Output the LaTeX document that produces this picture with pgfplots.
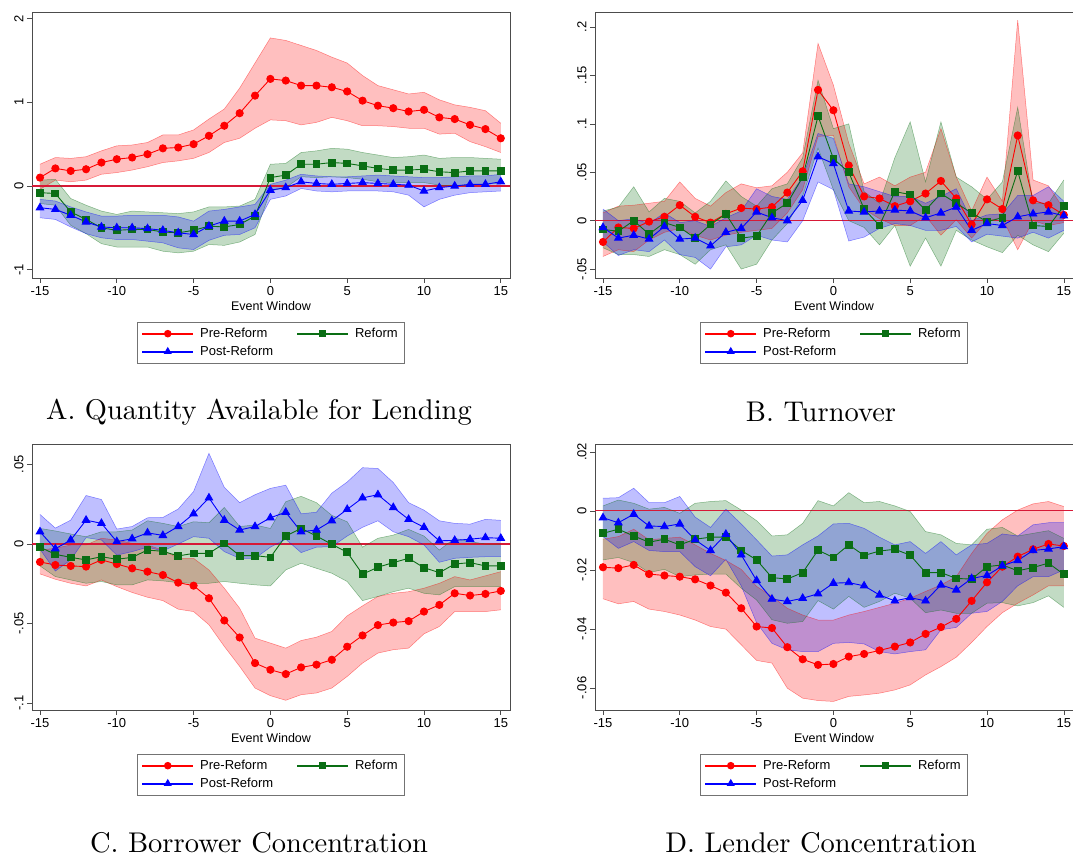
\documentclass[border=0pt]{standalone}
\usepackage{fontspec}
\setsansfont{Liberation Sans}
\newfontfamily\titlefont{lmroman10-regular.otf}
\usepackage{pgfplots}
\usepackage{pgfplotstable}
\pgfplotsset{compat=1.18}
\usepgfplotslibrary{fillbetween}

\definecolor{prered}{RGB}{255,0,0}
\definecolor{refgreen}{RGB}{10,110,20}
\definecolor{postblue}{RGB}{0,0,255}
\definecolor{zeroline}{RGB}{215,25,55}

% columns: event time, then mean / lower / upper for pre-reform (r), reform (g), post-reform (b)
\pgfplotstableread{
x rm rl rh gm gl gh bm bl bh
-15 0.10 -0.04 0.26 -0.08 -0.21 0.07 -0.26 -0.38 -0.16
-14 0.21 0.07 0.34 -0.09 -0.23 0.08 -0.28 -0.40 -0.18
-13 0.18 0.05 0.33 -0.31 -0.47 -0.15 -0.35 -0.49 -0.25
-12 0.20 0.07 0.35 -0.40 -0.57 -0.23 -0.43 -0.57 -0.31
-11 0.28 0.14 0.42 -0.50 -0.69 -0.30 -0.49 -0.62 -0.36
-10 0.32 0.16 0.48 -0.53 -0.73 -0.34 -0.50 -0.64 -0.36
-9 0.34 0.19 0.49 -0.52 -0.73 -0.30 -0.50 -0.64 -0.35
-8 0.38 0.23 0.52 -0.52 -0.73 -0.31 -0.51 -0.66 -0.35
-7 0.45 0.28 0.61 -0.55 -0.78 -0.32 -0.53 -0.68 -0.35
-6 0.46 0.30 0.61 -0.56 -0.80 -0.33 -0.56 -0.74 -0.37
-5 0.50 0.33 0.67 -0.53 -0.78 -0.31 -0.58 -0.76 -0.42
-4 0.60 0.40 0.80 -0.48 -0.70 -0.25 -0.48 -0.65 -0.30
-3 0.72 0.52 0.92 -0.49 -0.71 -0.25 -0.42 -0.59 -0.28
-2 0.87 0.57 1.17 -0.46 -0.67 -0.24 -0.42 -0.58 -0.25
-1 1.08 0.69 1.47 -0.36 -0.58 -0.16 -0.34 -0.50 -0.22
0 1.28 0.79 1.77 0.10 -0.06 0.26 -0.05 -0.16 0.02
1 1.26 0.78 1.74 0.13 -0.02 0.27 -0.02 -0.12 0.07
2 1.20 0.73 1.68 0.26 0.11 0.40 0.05 -0.03 0.14
3 1.20 0.76 1.62 0.26 0.10 0.42 0.03 -0.06 0.12
4 1.18 0.82 1.54 0.28 0.11 0.45 0.02 -0.07 0.11
5 1.13 0.78 1.47 0.27 0.10 0.44 0.03 -0.06 0.11
6 1.02 0.72 1.32 0.24 0.08 0.40 0.04 -0.06 0.12
7 0.96 0.72 1.20 0.21 0.05 0.37 0.03 -0.06 0.13
8 0.93 0.71 1.15 0.19 0.04 0.34 0.02 -0.07 0.12
9 0.89 0.69 1.10 0.19 0.04 0.35 0.01 -0.11 0.11
10 0.91 0.69 1.12 0.20 0.04 0.37 -0.06 -0.25 0.10
11 0.82 0.62 1.03 0.17 0.01 0.33 -0.02 -0.16 0.10
12 0.80 0.63 0.97 0.16 0.00 0.34 0.00 -0.11 0.11
13 0.73 0.53 0.94 0.18 0.01 0.34 0.02 -0.08 0.12
14 0.68 0.47 0.90 0.18 0.02 0.33 0.02 -0.07 0.12
15 0.57 0.40 0.75 0.18 0.03 0.32 0.05 -0.06 0.14
}\quantity

\pgfplotstableread{
x rm rl rh gm gl gh bm bl bh
-15 -0.022 -0.037 0.008 -0.009 -0.028 0.010 -0.007 -0.022 0.012
-14 -0.007 -0.030 0.015 -0.011 -0.035 0.014 -0.018 -0.036 0.000
-13 -0.008 -0.032 0.016 0.000 -0.035 0.035 -0.015 -0.030 0.002
-12 -0.001 -0.020 0.018 -0.014 -0.037 0.009 -0.019 -0.032 -0.003
-11 0.004 -0.012 0.020 -0.002 -0.030 0.023 -0.006 -0.020 0.008
-10 0.016 -0.008 0.040 -0.007 -0.035 0.020 -0.019 -0.035 -0.002
-9 0.004 -0.015 0.023 -0.018 -0.045 0.008 -0.018 -0.038 0.000
-8 -0.002 -0.020 0.015 -0.004 -0.030 0.020 -0.026 -0.050 -0.006
-7 0.007 -0.015 0.029 0.007 -0.025 0.041 -0.012 -0.027 0.003
-6 0.013 -0.012 0.038 -0.018 -0.050 0.025 -0.008 -0.025 0.010
-5 0.012 -0.010 0.034 -0.016 -0.045 0.015 0.009 -0.015 0.033
-4 0.014 -0.008 0.036 0.008 -0.020 0.033 0.003 -0.020 0.025
-3 0.029 0.008 0.050 0.018 -0.003 0.038 0.000 -0.022 0.022
-2 0.051 0.032 0.070 0.045 0.025 0.065 0.021 0.000 0.045
-1 0.135 0.087 0.183 0.108 0.075 0.145 0.066 0.040 0.090
0 0.114 0.088 0.140 0.064 0.032 0.095 0.059 0.032 0.085
1 0.057 0.035 0.080 0.050 0.000 0.100 0.010 -0.021 0.038
2 0.025 0.012 0.038 0.012 -0.007 0.030 0.009 -0.017 0.035
3 0.023 0.002 0.045 -0.005 -0.025 0.018 0.010 -0.008 0.030
4 0.015 -0.005 0.036 0.030 -0.005 0.065 0.011 -0.003 0.025
5 0.020 -0.005 0.045 0.027 -0.047 0.102 0.010 -0.005 0.025
6 0.028 0.005 0.050 0.011 -0.018 0.040 0.003 -0.010 0.018
7 0.041 -0.015 0.095 0.028 -0.047 0.102 0.008 -0.010 0.025
8 0.023 0.001 0.045 0.018 -0.010 0.045 0.014 -0.006 0.033
9 -0.004 -0.018 0.010 0.008 -0.020 0.035 -0.010 -0.022 0.000
10 0.022 0.000 0.045 -0.001 -0.027 0.022 -0.003 -0.014 0.006
11 0.012 0.003 0.020 0.003 -0.033 0.040 -0.005 -0.016 0.007
12 0.088 -0.030 0.207 0.051 -0.015 0.117 0.004 -0.018 0.026
13 0.021 0.000 0.042 -0.005 -0.025 0.018 0.007 -0.012 0.026
14 0.016 -0.005 0.036 -0.006 -0.032 0.018 0.009 -0.018 0.035
15 0.006 -0.002 0.012 0.015 -0.013 0.042 0.005 -0.010 0.020
}\turnover

\pgfplotstableread{
x rm rl rh gm gl gh bm bl bh
-15 -0.0113 -0.0188 -0.0038 -0.0020 -0.0138 0.0098 0.0077 -0.0033 0.0186
-14 -0.0132 -0.0222 -0.0027 -0.0065 -0.0205 0.0082 -0.0030 -0.0170 0.0100
-13 -0.0138 -0.0247 -0.0006 -0.0084 -0.0226 0.0063 0.0025 -0.0100 0.0150
-12 -0.0142 -0.0264 -0.0006 -0.0100 -0.0247 0.0046 0.0150 0.0040 0.0305
-11 -0.0100 -0.0226 0.0036 -0.0080 -0.0236 0.0077 0.0130 0.0025 0.0280
-10 -0.0126 -0.0268 0.0025 -0.0096 -0.0257 0.0077 0.0015 -0.0070 0.0094
-9 -0.0153 -0.0305 0.0004 -0.0084 -0.0257 0.0088 0.0033 -0.0048 0.0110
-8 -0.0174 -0.0335 -0.0006 -0.0038 -0.0226 0.0146 0.0070 -0.0020 0.0165
-7 -0.0195 -0.0356 -0.0038 -0.0046 -0.0232 0.0130 0.0054 -0.0044 0.0167
-6 -0.0243 -0.0410 -0.0090 -0.0075 -0.0243 0.0110 0.0110 0.0000 0.0220
-5 -0.0262 -0.0425 -0.0090 -0.0059 -0.0247 0.0140 0.0190 0.0046 0.0330
-4 -0.0341 -0.0508 -0.0163 -0.0059 -0.0247 0.0134 0.0290 0.0036 0.0570
-3 -0.0481 -0.0644 -0.0278 0.0004 -0.0236 0.0230 0.0150 -0.0048 0.0356
-2 -0.0588 -0.0770 -0.0404 -0.0073 -0.0247 0.0110 0.0088 -0.0090 0.0260
-1 -0.0749 -0.0906 -0.0592 -0.0073 -0.0257 0.0120 0.0110 -0.0090 0.0310
0 -0.0791 -0.0954 -0.0623 -0.0084 -0.0264 0.0098 0.0165 -0.0020 0.0350
1 -0.0818 -0.0983 -0.0655 0.0050 -0.0163 0.0266 0.0200 0.0030 0.0370
2 -0.0776 -0.0948 -0.0607 0.0098 -0.0121 0.0300 0.0077 -0.0054 0.0190
3 -0.0759 -0.0937 -0.0586 0.0050 -0.0153 0.0260 0.0088 -0.0020 0.0200
4 -0.0728 -0.0906 -0.0550 -0.0002 -0.0184 0.0180 0.0146 -0.0017 0.0320
5 -0.0646 -0.0833 -0.0452 -0.0052 -0.0236 0.0140 0.0218 0.0050 0.0390
6 -0.0575 -0.0749 -0.0389 -0.0190 -0.0356 -0.0020 0.0290 0.0105 0.0480
7 -0.0510 -0.0686 -0.0330 -0.0146 -0.0330 0.0036 0.0310 0.0146 0.0475
8 -0.0494 -0.0665 -0.0310 -0.0117 -0.0300 0.0056 0.0230 0.0077 0.0387
9 -0.0485 -0.0655 -0.0300 -0.0090 -0.0278 0.0092 0.0155 0.0046 0.0260
10 -0.0425 -0.0565 -0.0278 -0.0149 -0.0310 0.0050 0.0105 -0.0006 0.0213
11 -0.0383 -0.0519 -0.0247 -0.0180 -0.0320 -0.0038 0.0020 -0.0115 0.0146
12 -0.0310 -0.0425 -0.0205 -0.0126 -0.0268 0.0036 0.0023 -0.0090 0.0130
13 -0.0324 -0.0425 -0.0226 -0.0117 -0.0268 0.0015 0.0030 -0.0084 0.0125
14 -0.0314 -0.0425 -0.0200 -0.0138 -0.0268 0.0000 0.0040 -0.0080 0.0155
15 -0.0295 -0.0414 -0.0174 -0.0138 -0.0268 0.0000 0.0036 -0.0080 0.0149
}\borrower

\pgfplotstableread{
x rm rl rh gm gl gh bm bl bh
-15 -0.0191 -0.0298 -0.0096 -0.0076 -0.0166 0.0017 -0.0023 -0.0087 0.0043
-14 -0.0194 -0.0315 -0.0087 -0.0062 -0.0158 0.0037 -0.0040 -0.0127 0.0045
-13 -0.0183 -0.0307 -0.0062 -0.0085 -0.0175 0.0026 -0.0011 -0.0104 0.0077
-12 -0.0214 -0.0333 -0.0098 -0.0106 -0.0209 0.0006 -0.0051 -0.0134 0.0028
-11 -0.0219 -0.0341 -0.0093 -0.0096 -0.0198 0.0012 -0.0053 -0.0138 0.0028
-10 -0.0223 -0.0353 -0.0089 -0.0115 -0.0223 -0.0008 -0.0044 -0.0138 0.0049
-9 -0.0232 -0.0370 -0.0115 -0.0096 -0.0217 0.0026 -0.0098 -0.0189 -0.0021
-8 -0.0253 -0.0392 -0.0144 -0.0089 -0.0214 0.0032 -0.0134 -0.0220 -0.0056
-7 -0.0277 -0.0401 -0.0168 -0.0089 -0.0214 0.0035 -0.0079 -0.0164 0.0006
-6 -0.0330 -0.0454 -0.0198 -0.0134 -0.0262 0.0003 -0.0149 -0.0254 -0.0044
-5 -0.0392 -0.0507 -0.0256 -0.0166 -0.0302 -0.0033 -0.0236 -0.0379 -0.0098
-4 -0.0397 -0.0516 -0.0290 -0.0226 -0.0369 -0.0085 -0.0299 -0.0449 -0.0153
-3 -0.0462 -0.0601 -0.0330 -0.0231 -0.0381 -0.0081 -0.0307 -0.0471 -0.0149
-2 -0.0503 -0.0635 -0.0353 -0.0209 -0.0375 -0.0042 -0.0296 -0.0477 -0.0115
-1 -0.0522 -0.0643 -0.0370 -0.0133 -0.0304 0.0035 -0.0281 -0.0477 -0.0085
0 -0.0519 -0.0646 -0.0370 -0.0158 -0.0333 0.0017 -0.0245 -0.0449 -0.0044
1 -0.0494 -0.0629 -0.0353 -0.0115 -0.0290 0.0062 -0.0243 -0.0446 -0.0042
2 -0.0485 -0.0624 -0.0341 -0.0151 -0.0327 0.0028 -0.0254 -0.0451 -0.0059
3 -0.0473 -0.0618 -0.0327 -0.0136 -0.0307 0.0032 -0.0285 -0.0477 -0.0089
4 -0.0460 -0.0607 -0.0313 -0.0130 -0.0279 0.0017 -0.0305 -0.0485 -0.0115
5 -0.0446 -0.0590 -0.0296 -0.0150 -0.0296 -0.0002 -0.0294 -0.0477 -0.0104
6 -0.0417 -0.0556 -0.0273 -0.0209 -0.0345 -0.0070 -0.0305 -0.0471 -0.0144
7 -0.0394 -0.0528 -0.0251 -0.0209 -0.0336 -0.0081 -0.0251 -0.0403 -0.0104
8 -0.0366 -0.0496 -0.0223 -0.0229 -0.0347 -0.0110 -0.0268 -0.0395 -0.0149
9 -0.0305 -0.0446 -0.0144 -0.0231 -0.0347 -0.0115 -0.0229 -0.0347 -0.0115
10 -0.0242 -0.0392 -0.0076 -0.0189 -0.0313 -0.0062 -0.0219 -0.0341 -0.0110
11 -0.0189 -0.0345 -0.0030 -0.0183 -0.0311 -0.0056 -0.0186 -0.0307 -0.0078
12 -0.0155 -0.0313 0.0003 -0.0203 -0.0322 -0.0085 -0.0168 -0.0254 -0.0085
13 -0.0130 -0.0285 0.0024 -0.0192 -0.0311 -0.0076 -0.0134 -0.0223 -0.0047
14 -0.0112 -0.0254 0.0032 -0.0177 -0.0288 -0.0067 -0.0129 -0.0223 -0.0040
15 -0.0119 -0.0254 0.0015 -0.0215 -0.0327 -0.0093 -0.0121 -0.0200 -0.0040
}\lender

\pgfplotsset{
  bandedge/.style={draw=#1, draw opacity=0.45, line width=0.5pt, forget plot},
  % legend sample: a thin coloured bar with the marker at its middle
  sample/.style n args={3}{legend image code/.code={%
      \fill[fill=#1, fill opacity=0.85] (0pt,-0.6pt) rectangle (50pt,0.6pt);
      \path[fill=#1, draw=#1] plot[mark=#2, mark size=#3] coordinates {(25pt,0pt)};}},
  evt/.style={
    scale only axis, width=478pt, height=266pt,
    scaled x ticks=false, scaled y ticks=false,
    xtick={-15,-10,-5,0,5,10,15}, xticklabels={-15,-10,-5,0,5,10,15},
    tick align=outside, tick pos=left, major tick length=5pt,
    axis line style={line width=0.8pt, black!70},
    tick style={line width=0.6pt, black!70},
    ticklabel style={font=\sffamily\fontsize{13}{15}\selectfont, text=black},
    yticklabel style={rotate=90, anchor=south},
    xlabel={Event Window},
    xlabel style={font=\sffamily\fontsize{12.5}{14}\selectfont, yshift=1pt},
    legend columns=2, legend cell align=left,
    legend style={at={(0.5,-0.165)}, anchor=north, draw=black!55, line width=0.7pt,
      font=\sffamily\fontsize{13}{15}\selectfont, inner xsep=5pt, inner ysep=4pt,
      row sep=3pt,
      /tikz/every odd column/.append style={column sep=5pt},
      /tikz/every even column/.append style={column sep=22pt}},
  },
}

% zero reference line, then for each group its confidence band and its estimates
\newcommand{\eventplots}[1]{%
  \addplot[color=zeroline, line width=1.1pt, forget plot] coordinates {(-17,0) (17,0)};
  \addplot[name path=rlo, bandedge=prered] table[x=x,y=rl]{#1};
  \addplot[name path=rhi, bandedge=prered] table[x=x,y=rh]{#1};
  \addplot[fill=prered, fill opacity=0.25, draw=none, forget plot] fill between[of=rlo and rhi];
  \addplot[color=prered, line width=0.9pt, mark=*, mark size=3.6pt,
    mark options={solid, fill=prered}, sample={prered}{*}{3.3pt}] table[x=x,y=rm]{#1};
  \addlegendentry{Pre-Reform}
  \addplot[name path=glo, bandedge=refgreen] table[x=x,y=gl]{#1};
  \addplot[name path=ghi, bandedge=refgreen] table[x=x,y=gh]{#1};
  \addplot[fill=refgreen, fill opacity=0.25, draw=none, forget plot] fill between[of=glo and ghi];
  \addplot[color=refgreen, line width=0.9pt, mark=square*, mark size=3.4pt,
    mark options={solid, fill=refgreen}, sample={refgreen}{square*}{3.1pt}] table[x=x,y=gm]{#1};
  \addlegendentry{Reform}
  \addplot[name path=blo, bandedge=postblue] table[x=x,y=bl]{#1};
  \addplot[name path=bhi, bandedge=postblue] table[x=x,y=bh]{#1};
  \addplot[fill=postblue, fill opacity=0.25, draw=none, forget plot] fill between[of=blo and bhi];
  \addplot[color=postblue, line width=0.9pt, mark=triangle*, mark size=4.3pt,
    mark options={solid, fill=postblue}, sample={postblue}{triangle*}{3.8pt}] table[x=x,y=bm]{#1};
  \addlegendentry{Post-Reform}
}

\begin{document}
\begin{tikzpicture}

% A. Quantity available for lending
\begin{axis}[evt, at={(32pt,583pt)}, anchor=south west,
  xmin=-15.52, xmax=15.6, ymin=-1.10, ymax=2.08,
  ytick={-1,0,1,2}, yticklabels={-1,0,1,2}]
  \eventplots{\quantity}
\end{axis}

% B. Turnover
\begin{axis}[evt, at={(595pt,583pt)}, anchor=south west,
  xmin=-15.52, xmax=15.6, ymin=-0.0592, ymax=0.2155,
  ytick={-0.05,0,0.05,0.1,0.15,0.2}, yticklabels={-.05,0,.05,.1,.15,.2}]
  \eventplots{\turnover}
\end{axis}

% C. Borrower concentration
\begin{axis}[evt, at={(32pt,151pt)}, anchor=south west,
  xmin=-15.52, xmax=15.6, ymin=-0.1044, ymax=0.0629,
  ytick={-0.1,-0.05,0,0.05}, yticklabels={-.1,-.05,0,.05}]
  \eventplots{\borrower}
\end{axis}

% D. Lender concentration
\begin{axis}[evt, at={(595pt,151pt)}, anchor=south west,
  xmin=-15.52, xmax=15.6, ymin=-0.0675, ymax=0.0227,
  ytick={-0.06,-0.04,-0.02,0,0.02}, yticklabels={-.06,-.04,-.02,0,.02}]
  \eventplots{\lender}
\end{axis}

\node[font=\titlefont\fontsize{28.5}{32}\selectfont] at (259pt,449pt) {A. Quantity Available for Lending};
\node[font=\titlefont\fontsize{28.5}{32}\selectfont] at (821pt,449pt) {B. Turnover};
\node[font=\titlefont\fontsize{28.5}{32}\selectfont] at (259pt,18pt) {C. Borrower Concentration};
\node[font=\titlefont\fontsize{28.5}{32}\selectfont] at (821pt,18pt) {D. Lender Concentration};

% fix the page to the figure's frame
\pgfresetboundingbox
\useasboundingbox (0,0) rectangle (1073pt,861pt);
\end{tikzpicture}
\end{document}
